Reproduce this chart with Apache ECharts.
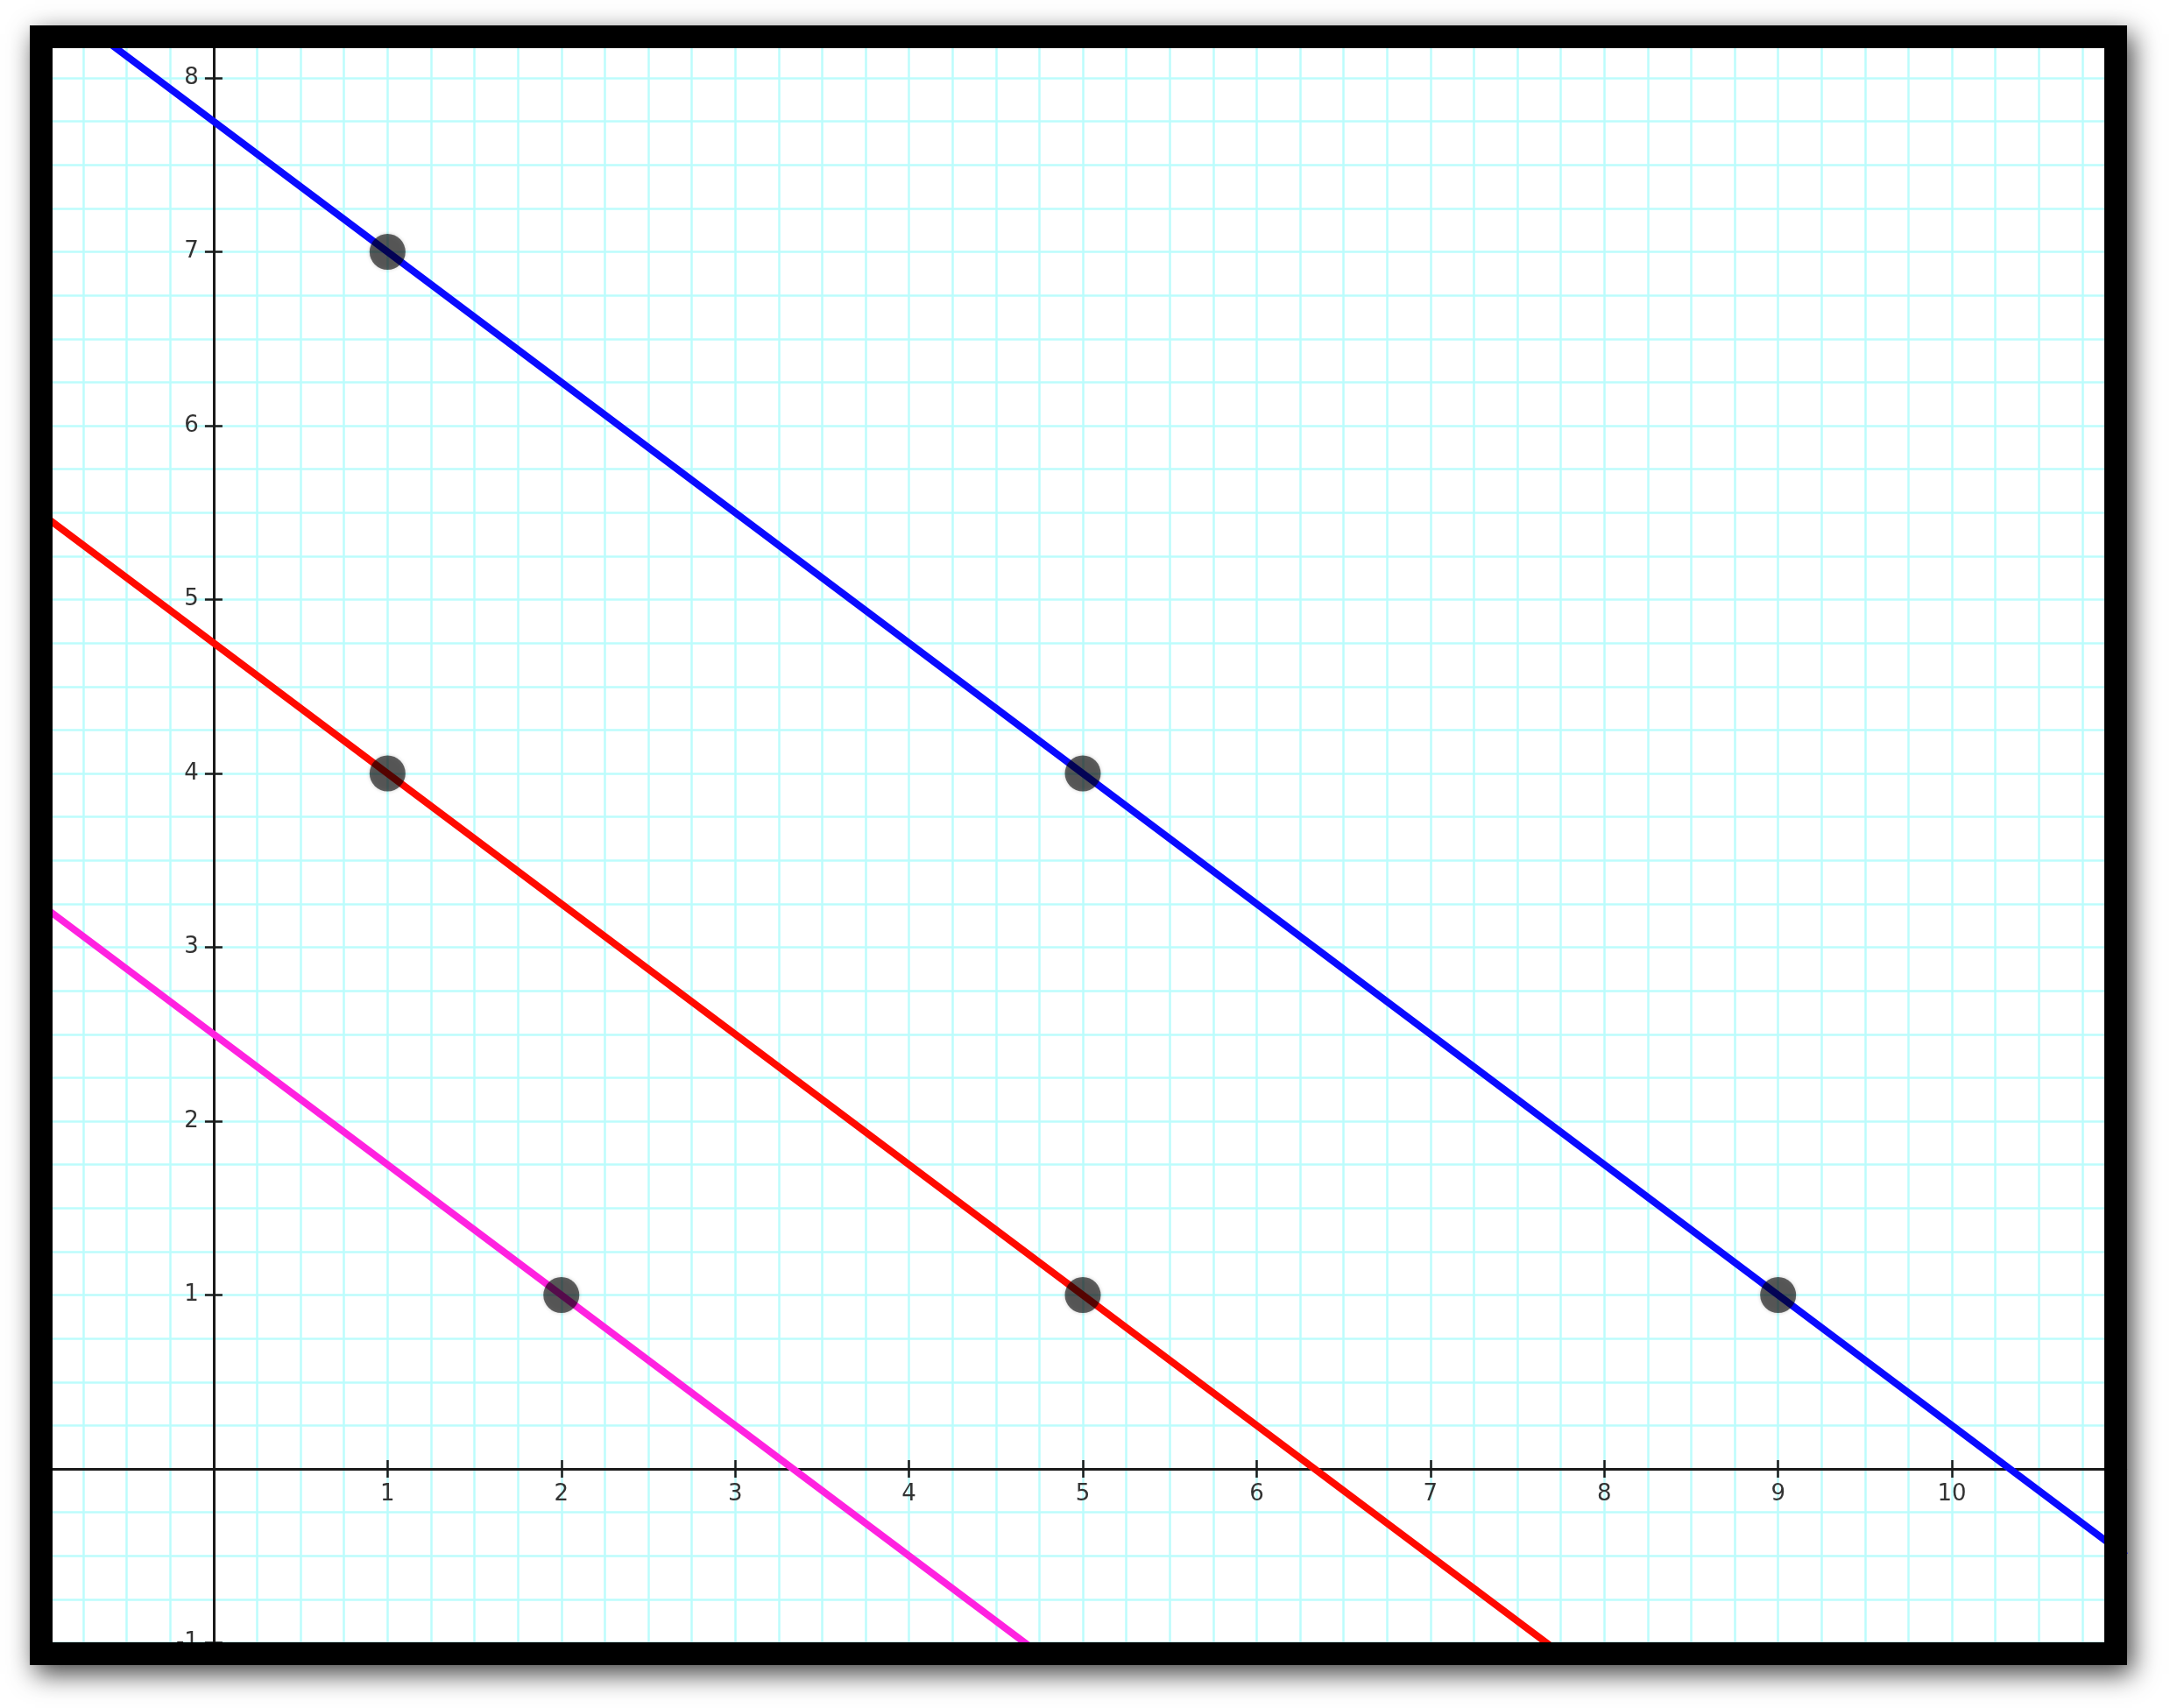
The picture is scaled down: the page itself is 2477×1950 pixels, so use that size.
<!DOCTYPE html>
<html>
<head>
<meta charset="utf-8">
<style>
  html, body { margin: 0; padding: 0; background: #ffffff; }
  #chart { width: 2477px; height: 1950px; }
</style>
<script src="https://cdn.jsdelivr.net/npm/echarts@6/dist/echarts.min.js"></script>
</head>
<body>
<div id="chart"></div>
<script>
// ---- data ----
var xTickValues = [1, 2, 3, 4, 5, 6, 7, 8, 9, 10];
var yTickValues = [-1, 1, 2, 3, 4, 5, 6, 7, 8];

// lines (slope -3/4), extended past the frame
var blueLine    = [[-1, 8.5], [1, 7], [5, 4], [9, 1], [11, -0.5]];
var redLine     = [[-1, 5.5], [1, 4], [5, 1], [8, -1.25]];
var magentaLine = [[-1, 3.25], [2, 1], [5, -1.25]];

// marked points
var markedPoints = [[1, 7], [5, 4], [9, 1], [1, 4], [5, 1], [2, 1]];

// axis ranges
var xMin = -1, xMax = 11;
var yMin = -1, yMax = 8.25;

// ---- layout ----
var W = 2477, H = 1950;
var gridLeft = 45.5, gridRight = 50.5, gridTop = 39.4, gridBottom = 74.5;
var unitX = (W - gridLeft - gridRight) / (xMax - xMin);
var unitY = (H - gridTop - gridBottom) / (yMax - yMin);
// move axis lines from the grid edge to the zero position of the other axis
var xAxisOffset = -(0 - yMin) * unitY;
var yAxisOffset = -(0 - xMin) * unitX;

var chart = echarts.init(document.getElementById('chart'), null, { renderer: 'canvas' });

var labelFont = { fontFamily: 'DejaVu Sans', fontSize: 26, color: '#333333' };
var gridCyan = '#bcfcfc';
var axisColor = '#1a1a1a';

function xLabelFmt(v) {
  return xTickValues.indexOf(v) >= 0 ? String(v) : '';
}
function yLabelFmt(v) {
  return yTickValues.indexOf(v) >= 0 ? String(v) : '';
}

var option = {
  animation: false,
  backgroundColor: '#ffffff',
  grid: {
    left: gridLeft,
    right: gridRight,
    top: gridTop,
    bottom: gridBottom,
    containLabel: false
  },
  xAxis: [
    { // minor grid
      type: 'value', min: xMin, max: xMax, interval: 0.25,
      axisLine: { show: false, onZero: false }, axisTick: { show: false }, axisLabel: { show: false },
      splitLine: { show: true, lineStyle: { color: gridCyan, width: 2.5 } }
    },
    { // main axis with labels, ticks below
      type: 'value', min: xMin, max: xMax, interval: 1, position: 'bottom', offset: xAxisOffset,
      axisLine: { show: true, onZero: false, lineStyle: { color: axisColor, width: 3 } },
      axisTick: { show: true, inside: false, length: 10, lineStyle: { color: axisColor, width: 2.5 } },
      axisLabel: Object.assign({ show: true, margin: 16, formatter: xLabelFmt }, labelFont),
      splitLine: { show: false }
    },
    { // ticks above
      type: 'value', min: xMin, max: xMax, interval: 1, position: 'bottom', offset: xAxisOffset,
      axisLine: { show: true, onZero: false, lineStyle: { color: axisColor, width: 3 } },
      axisTick: { show: true, inside: true, length: 10, lineStyle: { color: axisColor, width: 2.5 } },
      axisLabel: { show: false },
      splitLine: { show: false }
    }
  ],
  yAxis: [
    {
      type: 'value', min: yMin, max: yMax, interval: 0.25,
      axisLine: { show: false, onZero: false }, axisTick: { show: false }, axisLabel: { show: false },
      splitLine: { show: true, lineStyle: { color: gridCyan, width: 2.5 } }
    },
    {
      type: 'value', min: yMin, max: yMax, interval: 1, position: 'left', offset: yAxisOffset,
      axisLine: { show: true, onZero: false, lineStyle: { color: axisColor, width: 3 } },
      axisTick: { show: true, inside: false, length: 10, lineStyle: { color: axisColor, width: 2.5 } },
      axisLabel: Object.assign({ show: true, margin: 17, formatter: yLabelFmt }, labelFont),
      splitLine: { show: false }
    },
    {
      type: 'value', min: yMin, max: yMax, interval: 1, position: 'left', offset: yAxisOffset,
      axisLine: { show: true, onZero: false, lineStyle: { color: axisColor, width: 3 } },
      axisTick: { show: true, inside: true, length: 10, lineStyle: { color: axisColor, width: 2.5 } },
      axisLabel: { show: false },
      splitLine: { show: false }
    }
  ],
  series: [
    {
      type: 'line', xAxisIndex: 1, yAxisIndex: 1, data: blueLine, showSymbol: false, clip: true, z: 3,
      lineStyle: { color: '#0a0aff', width: 8 }, silent: true
    },
    {
      type: 'line', xAxisIndex: 1, yAxisIndex: 1, data: redLine, showSymbol: false, clip: true, z: 3,
      lineStyle: { color: '#ff0a00', width: 8 }, silent: true
    },
    {
      type: 'line', xAxisIndex: 1, yAxisIndex: 1, data: magentaLine, showSymbol: false, clip: true, z: 3,
      lineStyle: { color: '#ff22e0', width: 8 }, silent: true
    },
    {
      type: 'scatter', xAxisIndex: 1, yAxisIndex: 1, data: markedPoints, symbol: 'circle', symbolSize: 41, z: 5,
      itemStyle: { color: 'rgba(0,0,0,0.74)', shadowBlur: 4, shadowColor: 'rgba(0,0,0,0.3)' }, silent: true
    }
  ],
  graphic: [
    { // shadowed backing of the frame
      type: 'rect', z: -100, silent: true,
      shape: { x: 34, y: 29, width: 2394, height: 1872 },
      style: { fill: '#000000', shadowBlur: 28, shadowOffsetX: 6, shadowOffsetY: 10, shadowColor: 'rgba(0,0,0,0.75)' }
    },
    { // white plot background
      type: 'rect', z: -99, silent: true,
      shape: { x: 60, y: 55, width: 2342, height: 1820 },
      style: { fill: '#ffffff' }
    },
    { // black frame on top
      type: 'rect', z: 100, silent: true,
      shape: { x: 47, y: 42, width: 2368, height: 1846 },
      style: { fill: null, stroke: '#000000', lineWidth: 26 }
    }
  ]
};

chart.setOption(option);
</script>
</body>
</html>
